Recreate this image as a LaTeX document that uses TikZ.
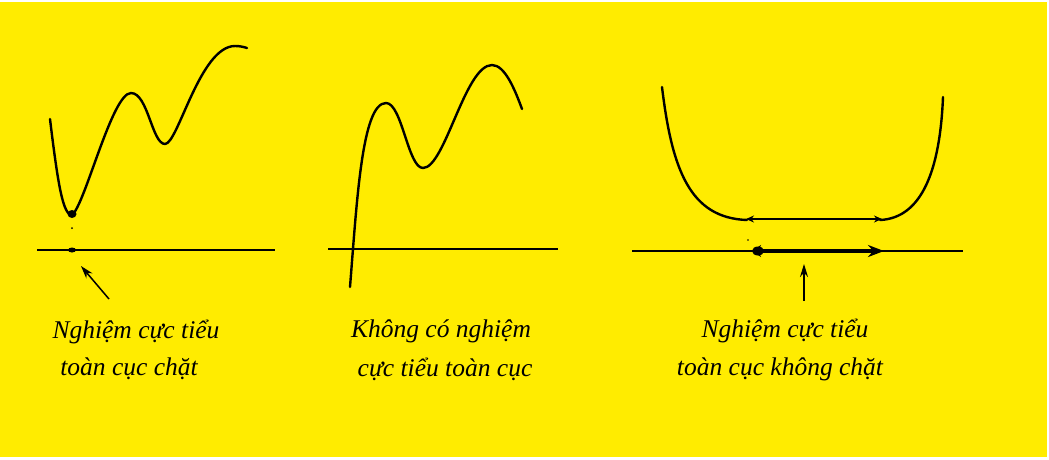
\documentclass[tikz,border=0pt]{standalone}
\usepackage{fontspec}
\setmainfont{Liberation Serif}
\usetikzlibrary{arrows.meta}
\definecolor{bg}{RGB}{255,236,0}
\begin{document}
\begin{tikzpicture}[x=1pt,y=-1pt,
  curve/.style={line width=2.4pt, line cap=round, line join=round},
  axis/.style={line width=1.6pt},
  lbl/.style={font=\fontsize{25.5}{30}\selectfont\itshape, inner sep=0pt, anchor=base},
  ptr/.style={line width=1.5pt,-{Stealth[length=13pt,width=8pt]}}]
\useasboundingbox (0,0) rectangle (1049,459);
\fill[white] (0,0) rectangle (1049,459);
\fill[bg] (0,2) rectangle (1047,457);

% ---------- Panel 1 ----------
\coordinate (a1L) at (37,250);
\coordinate (a1R) at (275,250);
\draw[axis] (a1L) -- (a1R);
\draw[curve] (50,119) .. controls (58,185) and (63,215) .. (72,215)
  .. controls (85,205) and (112,93) .. (131,93)
  .. controls (148,93) and (152,144) .. (165,144)
  .. controls (178,144) and (200,46) .. (235,46)
  .. controls (240,46) and (244,47) .. (247,48);
\fill (72,214) ellipse (4.5pt and 4pt);
\fill (72,228) circle (1pt);
\fill (72,250) ellipse (4pt and 2.5pt);
\coordinate (p1tail) at (109,299);
\coordinate (p1tip) at (81,266);
\draw[ptr] (p1tail) -- (p1tip);
\node[lbl] (t1a) at (136,338) {Nghiệm cực tiểu};
\node[lbl] (t1b) at (129,375) {toàn cục chặt};

% ---------- Panel 2 ----------
\coordinate (a2L) at (328,249);
\coordinate (a2R) at (558,249);
\draw[line width=1.2pt] (a2L) -- (a2R);
\draw[line width=2pt] (352,249) -- (483,249);
\draw[curve] (350,287) .. controls (357,200) and (362,103) .. (386,103)
  .. controls (402,103) and (408,168) .. (423,168)
  .. controls (445,168) and (465,65) .. (492,65)
  .. controls (505,65) and (515,90) .. (522,109);
\node[lbl] (t2a) at (441,337) {Không có nghiệm};
\node[lbl] (t2b) at (445,376) {cực tiểu toàn cục};

% ---------- Panel 3 ----------
\coordinate (a3L) at (632,251);
\coordinate (a3R) at (963,251);
\draw[line width=1.4pt] (a3L) -- (a3R);
\draw[line width=2.6pt] (727,251) -- (897,251);
\coordinate (s3L) at (752,251);
\coordinate (s3R) at (884,251);
\draw[line width=4.5pt, {Stealth[length=9pt,width=12pt]}-{Stealth[length=16pt,width=12pt]}] (s3L) -- (s3R);
\fill (758,251) ellipse (6pt and 4.5pt);
\fill (748,240) circle (0.9pt);
\draw[curve] (662,87) .. controls (672,170) and (690,218) .. (747,220);
\draw[curve] (880,220) .. controls (922,218) and (940,170) .. (943,97);
\coordinate (m3L) at (746,219);
\coordinate (m3R) at (882,219);
\draw[line width=1.1pt, {Stealth[length=8pt,width=7pt]}-{Stealth[length=8pt,width=7pt]}] (m3L) -- (m3R);
\coordinate (p3tail) at (804,301);
\coordinate (p3tip) at (804,264);
\draw[ptr] (p3tail) -- (p3tip);
\node[lbl] (t3a) at (785,337) {Nghiệm cực tiểu};
\node[lbl] (t3b) at (780,375) {toàn cục không chặt};
\end{tikzpicture}
\end{document}
